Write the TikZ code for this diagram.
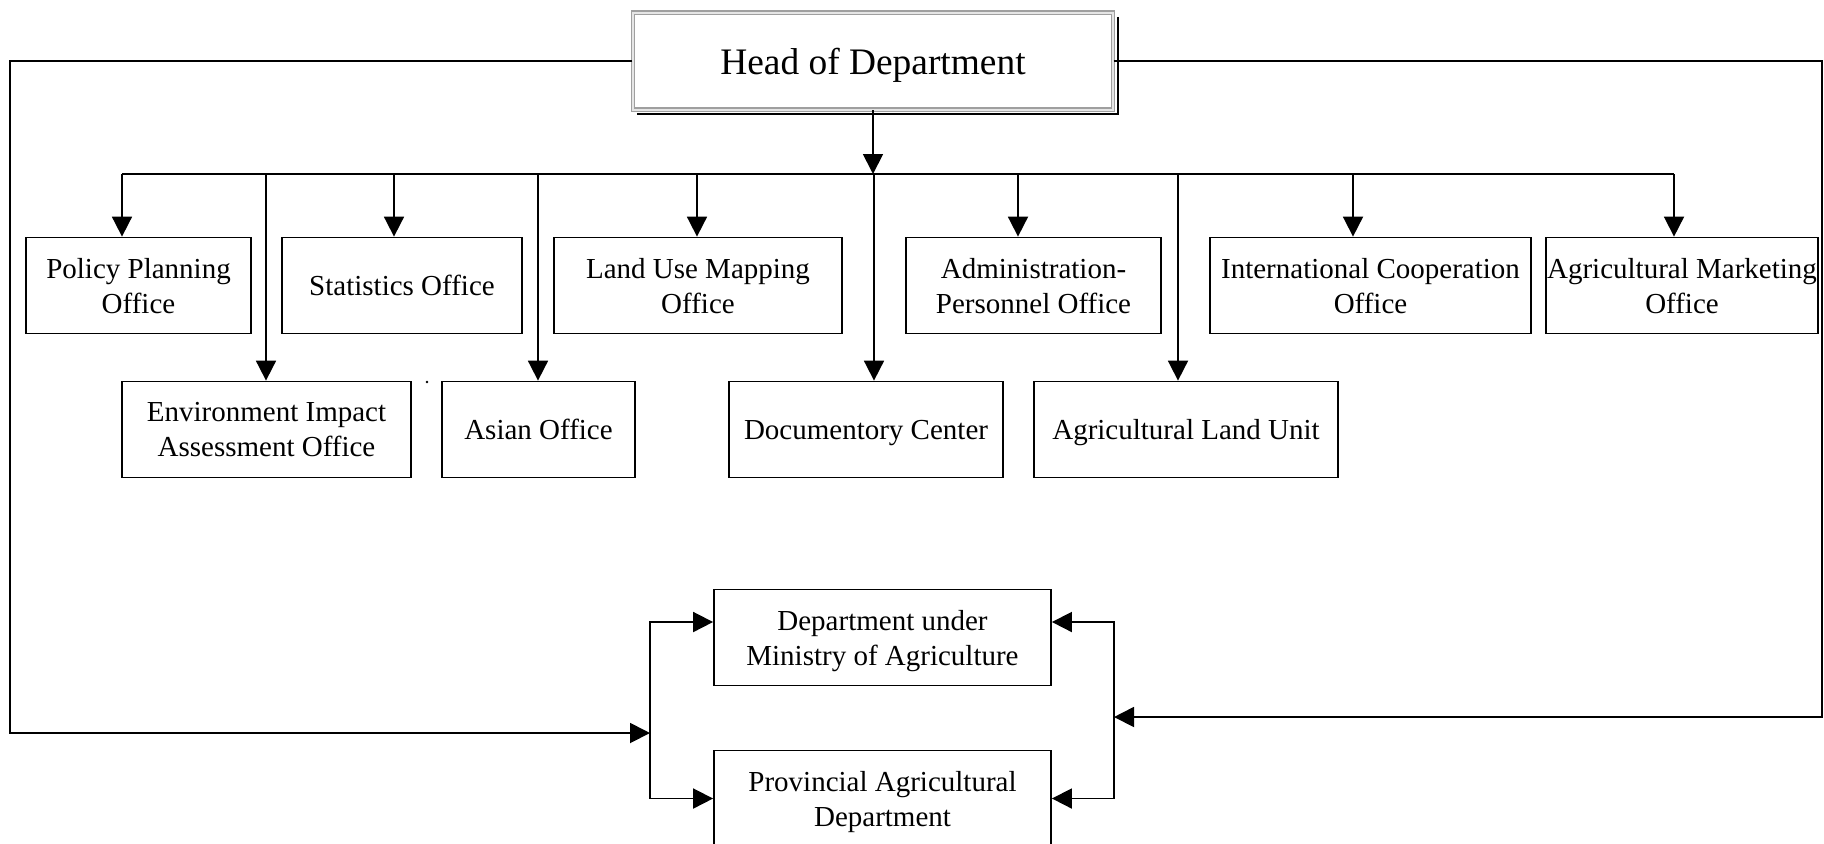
\documentclass[tikz,border=0pt]{standalone}
\usepackage{fontspec}
\setmainfont{Liberation Serif}
\usetikzlibrary{arrows.meta}

\tikzset{
  office/.style={draw,line width=0.9pt,inner sep=0pt,minimum height=48pt,align=center,
                 text depth=0pt,font=\fontsize{14.5}{17.5}\selectfont},
  headbox/.style={draw=gray!75,double=gray!20,double distance=1pt,line width=0.7pt,
                  inner sep=0pt,text depth=0pt,font=\fontsize{18.7}{22}\selectfont},
  link/.style={line width=0.9pt,-{Triangle[length=10pt,width=10pt]}},
}

\begin{document}
\begin{tikzpicture}[x=0.5pt,y=-0.5pt]
  \useasboundingbox (0,0) rectangle (1824,843);

  % head
  \node[headbox,minimum width=240pt,minimum height=48.5pt] (head) at (873,61) {Head of Department};
  \draw[line width=0.9pt] ([shift={(2pt,-2.5pt)}]head.north east) -- ([shift={(2pt,-2pt)}]head.south east)
                          -- ([shift={(2.5pt,-2pt)}]head.south west);

  % first row of offices
  \node[office,minimum width=112.5pt] (pol)  at (138.5,285.5)  {Policy Planning\\Office};
  \node[office,minimum width=120pt]   (stat) at (402,285.5)    {Statistics Office};
  \node[office,minimum width=144pt]   (land) at (698,285.5)    {Land Use Mapping\\Office};
  \node[office,minimum width=127.5pt] (adm)  at (1033.5,285.5) {Administration-\\Personnel Office};
  \node[office,minimum width=160.5pt] (intl) at (1370.5,285.5) {International Cooperation\\Office};
  \node[office,minimum width=136pt]   (mkt)  at (1682,285.5)   {Agricultural Marketing\\Office};

  % second row of offices
  \node[office,minimum width=144.5pt] (env)   at (266.5,429.5) {Environment Impact\\Assessment Office};
  \node[office,minimum width=96.5pt]  (asian) at (538.5,429.5) {Asian Office};
  \node[office,minimum width=137pt]   (doc)   at (866,429.5)   {Documentory Center};
  \node[office,minimum width=152pt]   (agri)  at (1186,429.5)  {Agricultural Land Unit};

  % departments below
  \node[office,minimum width=168.5pt] (dept) at (882.5,637.5) {Department under\\Ministry of Agriculture};
  \node[office,minimum width=168.5pt] (prov) at (882.5,798.5) {Provincial Agricultural\\Department};

  % bus under the head
  \coordinate (busL) at (122,174);
  \coordinate (busR) at (1674,174);
  \draw[link] (head.south) -- (head.south |- busL);
  \draw[line width=0.9pt] (busL) -- (busR);
  \foreach \bx/\bname in {122/pol, 394/stat, 697/land, 1018/adm, 1353/intl, 1674/mkt,
                        266/env, 538/asian, 874/doc, 1178/agri} {
      \draw[link] (\bx,174) -- (\bx,174 |- \bname.north);
  }

  % loops round the sides
  \coordinate (lbr) at (650,733);
  \coordinate (rbr) at (1114,717);
  \draw[link] (head.west) -| (10,733) -- (lbr);
  \draw[link] (head.east) -| (1822,717) -- (rbr);
  \draw[link] (lbr) |- ([yshift=7.75pt]dept.west);
  \draw[link] (lbr) |- (prov.west);
  \draw[link] (rbr) |- ([yshift=7.75pt]dept.east);
  \draw[link] (rbr) |- (prov.east);

  \fill (427,382) circle (0.7pt);
\end{tikzpicture}
\end{document}
